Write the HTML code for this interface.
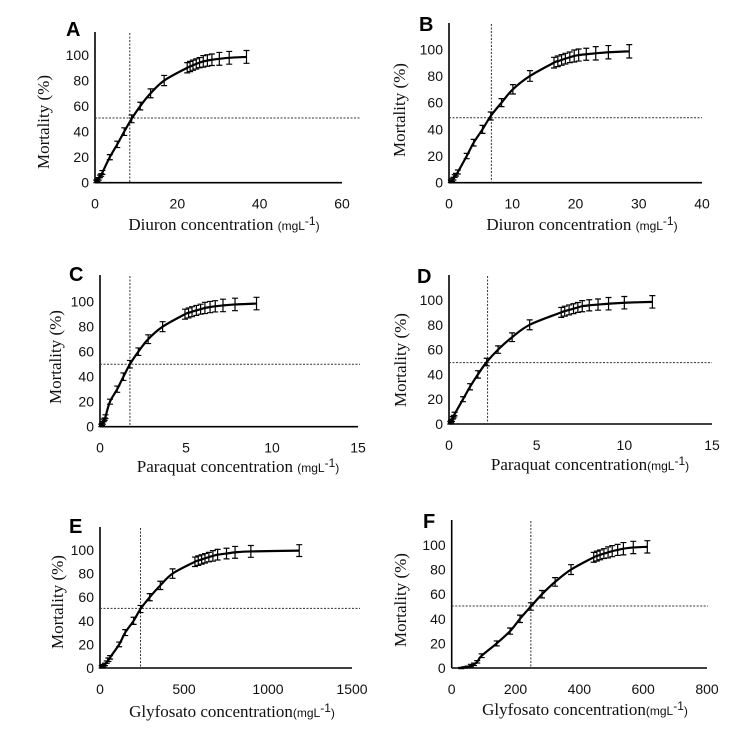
<!DOCTYPE html>
<html><head><meta charset="utf-8"><style>
html,body{margin:0;padding:0;background:#fff;}
svg{display:block;}
.tk{font-family:"Liberation Sans",sans-serif;font-size:14px;fill:#111;}
.tt{font-family:"Liberation Serif",serif;font-size:17px;fill:#111;}
.un{font-family:"Liberation Sans",sans-serif;font-size:12px;fill:#111;}
.lt{font-family:"Liberation Sans",sans-serif;font-size:20px;font-weight:bold;fill:#000;}
</style></head><body>
<svg id="fig" width="737" height="729" viewBox="0 0 737 729" xmlns="http://www.w3.org/2000/svg"></svg>
<script>
// Panel A - Diuron
const aX=[0.3,0.6,0.9,1.2,1.5,1.8,3.6,5.4,7.1,8.9,11,13.5,16.8,22.4,23.1,23.8,24.6,25.4,26.3,27.3,28.4,30.2,32.6,36.8];
const aY=[1,2,3,5,6,8,20,30,40,50,60,70,80,90,91,92,93,94,95,95.7,96.3,97,97.8,98.5];
const aE=[1,1,1,1,1,1.5,2,2.5,3,3,3,3.5,4,4,4,4,4,4,4.5,4.5,4.5,5,5,5];
// Panel B - Diuron
const bX=[0.3,0.5,0.7,0.9,1.1,1.4,2.8,3.9,5.3,6.6,8.3,10.1,12.8,16.6,17.2,17.8,18.4,19.1,19.8,20.5,21.7,23.2,25.2,28.5];
const bY=[1,2,3,5,6,8,20,30,40,50,60,70,80,90,91,92,93,94,95,95.7,96.3,97,97.8,98.5];
const bE=[1,1,1,1,1,1.5,2,2.5,3,3,3,3.5,4,4,4,4,4,4,4.5,4.5,4.5,5,5,5];
// Panel C - Paraquat
const cX=[0.07,0.12,0.17,0.22,0.27,0.32,0.58,1.0,1.36,1.74,2.23,2.8,3.64,4.94,5.15,5.35,5.6,5.85,6.1,6.4,6.7,7.15,7.85,9.1];
const cY=[1,2,3,5,6,8,20,30,40,50,60,70,80,90,91,92,93,94,95,95.7,96.3,97,97.8,98.5];
const cE=[1,1,1,1,1,1.5,2,2.5,3,3,3,3.5,4,4,4,4,4,4,4.5,4.5,4.5,5,5,5];
// Panel D - Paraquat
const dX=[0.07,0.12,0.17,0.22,0.27,0.32,0.8,1.2,1.65,2.15,2.8,3.6,4.6,6.4,6.6,6.85,7.1,7.35,7.6,8.0,8.5,9.1,10.0,11.6];
const dY=[1,2,3,5,6,8,20,30,40,50,60,70,80,90,91,92,93,94,95,95.7,96.3,97,97.8,98.5];
const dE=[1,1,1,1,1,1.5,2,2.5,3,3,3,3.5,4,4,4,4,4,4,4.5,4.5,4.5,5,5,5];
// Panel E - Glyfosato
const eX=[10,20,30,40,50,60,114,150,200,241,296,359,432,565,585,605,625,648,672,700,753,804,898,1186];
const eY=[1,2,3,5,7,9,20,30,40,50,60,70,80,90,91,92,93,94,95,96,97,98,98.8,99.5];
const eE=[1,1,1,1,1.5,1.5,2,2.5,3,3,3,3.5,4,4,4,4,4,4,4.5,4.5,4.5,5,5,5];
// Panel F - Glyfosato
const fX=[30,40,50,60,70,80,94,141,183,214,248,283,324,374,445,455,465,477,490,503,520,538,569,613];
const fY=[0,0.5,1,2,3,5,10,20,30,40,50,60,70,80,90,91,92,93,94,95,96,97,98,98.5];
const fE=[0.5,0.5,0.5,1,1,1,1.5,2,2.5,3,3,3,3.5,4,4,4,4,4,4.5,4.5,4.5,5,5,5];
const aTicks=["0","20","40","60"], bTicks=["0","10","20","30","40"], cTicks=["0","5","10","15"];
const eTicks=["0","500","1000","1500"], fTicks=["0","200","400","600","800"];
const yTicks=["0","20","40","60","80","100"];

const NS="http://www.w3.org/2000/svg";
const svg=document.getElementById('fig');
function mk(tag,attrs,parent){const e=document.createElementNS(NS,tag);for(const k in attrs)e.setAttribute(k,attrs[k]);(parent||svg).appendChild(e);return e;}

const panels=[
 {id:'a',L:'A',xs:aX,ys:aY,es:aE,ticks:aTicks,xmax:60,x0:95,xEnd:342,y0:182.7,y100:55,top:32,vx:8.45,hy:50.7,hEnd:360,letter:[66,36],title:"Diuron concentration ",tc:224,ty:230,yl:[43,122]},
 {id:'b',L:'B',xs:bX,ys:bY,es:bE,ticks:bTicks,xmax:40,x0:449,xEnd:702,y0:182.7,y100:49.3,top:23,vx:6.7,hy:48.7,hEnd:702,letter:[419,31],title:"Diuron concentration ",tc:582,ty:230,yl:[399,110]},
 {id:'c',L:'C',xs:cX,ys:cY,es:cE,ticks:cTicks,xmax:15,x0:100,xEnd:358,y0:426.7,y100:301.7,top:275,vx:1.74,hy:50,hEnd:360,letter:[69,281],title:"Paraquat concentration ",tc:238,ty:472,yl:[55,357]},
 {id:'d',L:'D',xs:dX,ys:dY,es:dE,ticks:cTicks,xmax:15,x0:449,xEnd:712,y0:424,y100:300,top:275,vx:2.2,hy:49.5,hEnd:712,letter:[417,283],title:"Paraquat concentration",tc:590,ty:470,yl:[400,360]},
 {id:'e',L:'E',xs:eX,ys:eY,es:eE,ticks:eTicks,xmax:1500,x0:100,xEnd:352,y0:668,y100:550,top:527,vx:241,hy:50.5,hEnd:360,letter:[69,533],title:"Glyfosato concentration",tc:232,ty:717,yl:[57,602]},
 {id:'f',L:'F',xs:fX,ys:fY,es:fE,ticks:fTicks,xmax:800,x0:451.7,xEnd:707,y0:668,y100:545,top:520,vx:248,hy:50.4,hEnd:708,letter:[423,528],title:"Glyfosato concentration",tc:585,ty:715,yl:[400,600]}
];

panels.forEach(p=>{
  const g=mk('g',{});
  
  
  const sx=v=>p.x0+v*(p.xEnd-p.x0)/p.xmax;
  const sy=v=>p.y0-v*(p.y0-p.y100)/100;
  // letter
  const lt=mk('text',{x:p.letter[0],y:p.letter[1],class:'lt'},g);lt.textContent=p.L;
  
  
  // axes
  const ya=mk('line',{x1:p.x0,y1:p.top,x2:p.x0,y2:p.y0,stroke:'#000','stroke-width':1.6},g);
  
  
  const xa=mk('line',{x1:p.x0,y1:p.y0,x2:p.xEnd,y2:p.y0,stroke:'#000','stroke-width':1.6},g);
  
  
  // ticks
  p.ticks.forEach((t,i)=>{
    const v=p.xmax*i/(p.ticks.length-1);
    const e=mk('text',{x:sx(v),y:p.y0+26,class:'tk','text-anchor':'middle'},g);e.textContent=t;
    
    
  });
  yTicks.forEach((t,i)=>{
    const e=mk('text',{x:p.x0-6,y:sy(i*20)+5,class:'tk','text-anchor':'end'},g);e.textContent=t;
    
    
  });
  // titles
  const xt=mk('text',{x:p.tc,y:p.ty,class:'tt','text-anchor':'middle'},g);
  
  
  xt.appendChild(document.createTextNode(p.title));
  const u=mk('tspan',{class:'un'},xt);u.textContent='(mgL';
  const s=mk('tspan',{class:'un','font-size':'9',dy:'-5'},xt);s.textContent='-1';
  const u2=mk('tspan',{class:'un',dy:'5'},xt);u2.textContent=')';
  const yt=mk('text',{x:p.yl[0],y:p.yl[1],class:'tt','text-anchor':'middle',transform:`rotate(-90 ${p.yl[0]} ${p.yl[1]})`,dy:'6'},g);
  yt.textContent='Mortality (%)';
  
  
  // reference lines
  const vl=mk('line',{x1:sx(p.vx),y1:p.top+1,x2:sx(p.vx),y2:p.y0,stroke:'#333','stroke-width':1,'stroke-dasharray':'2,1.5'},g);
  
  
  const hl=mk('line',{x1:p.x0,y1:sy(p.hy),x2:p.hEnd,y2:sy(p.hy),stroke:'#333','stroke-width':1,'stroke-dasharray':'2,1.5'},g);
  
  
  // curve (catmull-rom)
  const pts=p.xs.map((x,i)=>[sx(x),sy(p.ys[i])]);
  let d=`M${pts[0][0]},${pts[0][1]}`;
  for(let i=0;i<pts.length-1;i++){
    const p0=pts[Math.max(0,i-1)],p1=pts[i],p2=pts[i+1],p3=pts[Math.min(pts.length-1,i+2)];
    d+=` C${p1[0]+(p2[0]-p0[0])/6},${p1[1]+(p2[1]-p0[1])/6} ${p2[0]-(p3[0]-p1[0])/6},${p2[1]-(p3[1]-p1[1])/6} ${p2[0]},${p2[1]}`;
  }
  const c=mk('path',{d:d,fill:'none',stroke:'#000','stroke-width':2.2},g);
  
  
  // error bars
  p.xs.forEach((x,i)=>{
    const X=sx(x),y1=sy(p.ys[i]+p.es[i]),y2=sy(p.ys[i]-p.es[i]);
    const eb=mk('path',{d:`M${X},${y1}V${y2}M${X-3},${y1}H${X+3}M${X-3},${y2}H${X+3}`,stroke:'#000','stroke-width':1.2,fill:'none'},g);
    
    
  });
});
</script>
</body></html>
